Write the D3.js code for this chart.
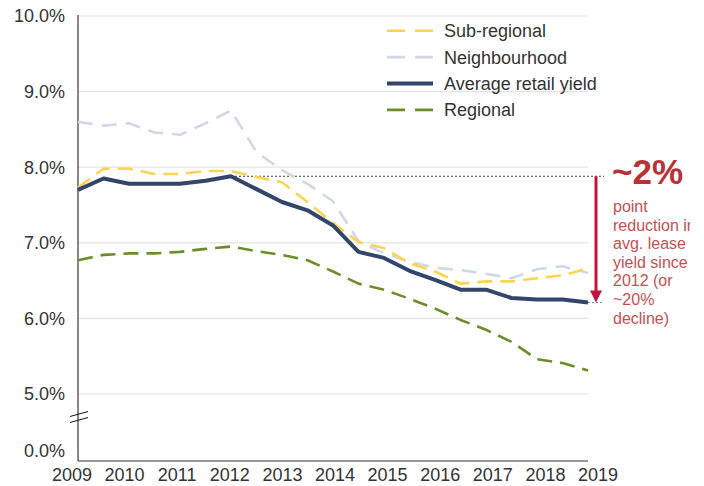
<!DOCTYPE html>
<html>
<head>
<meta charset="utf-8">
<script src="https://cdn.jsdelivr.net/npm/d3@7"></script>
<style>
  body { margin: 0; background: #fff; }
  text { font-family: "Liberation Sans", Arial, sans-serif; }
</style>
</head>
<body>
<div id="chart"></div>
<script>
// half-yearly readings, 2009 to 2019
var periods = [2009, 2009.5, 2010, 2010.5, 2011, 2011.5, 2012, 2012.5, 2013, 2013.5, 2014,
               2014.5, 2015, 2015.5, 2016, 2016.5, 2017, 2017.5, 2018, 2018.5, 2019];
var yearLabels = ["2009", "2010", "2011", "2012", "2013", "2014", "2015", "2016", "2017", "2018", "2019"];
var yTicks = [5, 6, 7, 8, 9, 10];

var subRegional   = [7.73, 7.98, 7.98, 7.91, 7.91, 7.95, 7.95, 7.87, 7.80, 7.54, 7.26,
                     7.01, 6.93, 6.73, 6.62, 6.46, 6.49, 6.49, 6.53, 6.57, 6.66];
var neighbourhood = [8.60, 8.55, 8.58, 8.46, 8.43, 8.58, 8.75, 8.20, 7.96, 7.78, 7.55,
                     7.02, 6.86, 6.75, 6.67, 6.64, 6.59, 6.53, 6.65, 6.69, 6.60];
var avgYield      = [7.70, 7.85, 7.78, 7.78, 7.78, 7.82, 7.88, 7.71, 7.54, 7.43, 7.23,
                     6.88, 6.80, 6.63, 6.51, 6.38, 6.38, 6.27, 6.25, 6.25, 6.21];
var regional      = [6.77, 6.84, 6.86, 6.86, 6.88, 6.92, 6.95, 6.89, 6.84, 6.77, 6.62,
                     6.46, 6.38, 6.26, 6.13, 5.98, 5.85, 5.69, 5.46, 5.41, 5.31];

var seriesNames = ["Sub-regional", "Neighbourhood", "Average retail yield", "Regional"];
var annotLines = ["point", "reduction in", "avg. lease", "yield since", "2012 (or", "~20%", "decline)"];

var width = 704, height = 486;
var plotLeft = 78, plotRight = 588, axisY = 461;

var svg = d3.select("#chart").append("svg")
  .attr("width", width)
  .attr("height", height);

svg.append("defs").append("clipPath").attr("id", "clip")
  .append("rect").attr("x", 0).attr("y", 0).attr("width", 690).attr("height", height);

var g = svg.append("g").attr("clip-path", "url(#clip)");

var x = d3.scaleLinear().domain([2009, 2019]).range([plotLeft, plotRight]);
var y = d3.scaleLinear().domain([5, 10]).range([394, 16]);
var xLab = d3.scalePoint().domain(yearLabels).range([72, 598]);

// gridlines
g.selectAll(".grid")
  .data(yTicks)
  .enter().append("line")
    .attr("x1", plotLeft).attr("x2", plotRight)
    .attr("y1", function(d){ return y(d); })
    .attr("y2", function(d){ return y(d); })
    .attr("stroke", "#e3e3e3")
    .attr("stroke-width", 1.2);

// y labels
g.selectAll(".ylab")
  .data(yTicks)
  .enter().append("text")
    .attr("x", 65)
    .attr("y", function(d){ return y(d); })
    .attr("dy", "0.36em")
    .attr("text-anchor", "end")
    .attr("font-size", "18px")
    .attr("fill", "#333")
    .text(function(d){ return d.toFixed(1) + "%"; });

g.append("text")
  .attr("x", 65).attr("y", 451).attr("dy", "0.36em")
  .attr("text-anchor", "end")
  .attr("font-size", "18px")
  .attr("fill", "#333")
  .text("0.0%");

// axes
g.append("line")
  .attr("x1", plotLeft).attr("x2", plotLeft)
  .attr("y1", 15).attr("y2", axisY)
  .attr("stroke", "#111").attr("stroke-width", 1);
g.append("line")
  .attr("x1", plotLeft).attr("x2", plotRight)
  .attr("y1", axisY).attr("y2", axisY)
  .attr("stroke", "#333").attr("stroke-width", 1.2);

// axis break
[0, 6].forEach(function(off){
  g.append("line")
    .attr("x1", 70).attr("y1", 416.5 + off)
    .attr("x2", 88).attr("y2", 411.5 + off)
    .attr("stroke", "#111").attr("stroke-width", 1);
});

// x labels
g.selectAll(".xlab")
  .data(yearLabels)
  .enter().append("text")
    .attr("x", function(d){ return xLab(d); })
    .attr("y", 481)
    .attr("text-anchor", "middle")
    .attr("font-size", "18px")
    .attr("fill", "#333")
    .text(function(d){ return d; });

var line = d3.line()
  .x(function(d, i){ return x(periods[i]); })
  .y(function(d){ return y(d); });

var series = [
  {name: "Regional", values: regional, color: "#6b8e2a", width: 2.6, dash: "15,8"},
  {name: "Neighbourhood", values: neighbourhood, color: "#cfd7e8", width: 2.6, dash: "15,9"},
  {name: "Sub-regional", values: subRegional, color: "#fdd44f", width: 2.6, dash: "15,8"},
  {name: "Average retail yield", values: avgYield, color: "#33456b", width: 4, dash: null}
];

// annotation dotted lines
g.append("line")
  .attr("x1", x(2012)).attr("x2", 604)
  .attr("y1", y(avgYield[6])).attr("y2", y(avgYield[6]))
  .attr("stroke", "#444").attr("stroke-width", 1)
  .attr("stroke-dasharray", "2,2");
g.append("line")
  .attr("x1", x(2019)).attr("x2", 604)
  .attr("y1", y(avgYield[20])).attr("y2", y(avgYield[20]))
  .attr("stroke", "#888").attr("stroke-width", 1)
  .attr("stroke-dasharray", "2,2");

g.selectAll(".series")
  .data(series)
  .enter().append("path")
    .attr("d", function(d){ return line(d.values); })
    .attr("fill", "none")
    .attr("stroke", function(d){ return d.color; })
    .attr("stroke-width", function(d){ return d.width; })
    .attr("stroke-dasharray", function(d){ return d.dash; })
    .attr("stroke-linejoin", "round");

// red arrow
var ax = 596, ay0 = y(avgYield[6]), ay1 = y(avgYield[20]);
g.append("line")
  .attr("x1", ax).attr("x2", ax)
  .attr("y1", ay0).attr("y2", ay1 - 10)
  .attr("stroke", "#c0143c").attr("stroke-width", 3);
g.append("path")
  .attr("d", "M" + (ax - 6) + "," + (ay1 - 12) + "L" + (ax + 6) + "," + (ay1 - 12) + "L" + ax + "," + ay1 + "Z")
  .attr("fill", "#c0143c");

// annotation text
g.append("text")
  .attr("x", 612).attr("y", 184)
  .attr("font-size", "35px")
  .attr("font-weight", "bold")
  .attr("fill", "#b83236")
  .text("~2%");

g.selectAll(".annot")
  .data(annotLines)
  .enter().append("text")
    .attr("x", 613)
    .attr("y", function(d, i){ return 212 + i * 18.6; })
    .attr("font-size", "16px")
    .attr("fill", "#c84f4f")
    .text(function(d){ return d; });

// legend
var legendColors = {"Sub-regional": series[2], "Neighbourhood": series[1], "Average retail yield": series[3], "Regional": series[0]};
var leg = g.selectAll(".leg")
  .data(seriesNames)
  .enter().append("g")
    .attr("transform", function(d, i){ return "translate(387," + (30.7 + i * 26.4) + ")"; });

leg.append("line")
  .attr("x1", 0).attr("x2", 46)
  .attr("stroke", function(d){ return legendColors[d].color; })
  .attr("stroke-width", function(d){ return legendColors[d].dash ? 2.6 : 4; })
  .attr("stroke-dasharray", function(d){ return legendColors[d].dash ? "18,10" : null; });

leg.append("text")
  .attr("x", 57)
  .attr("dy", "0.36em")
  .attr("font-size", "18px")
  .attr("fill", "#333")
  .text(function(d){ return d; });
</script>
</body>
</html>
